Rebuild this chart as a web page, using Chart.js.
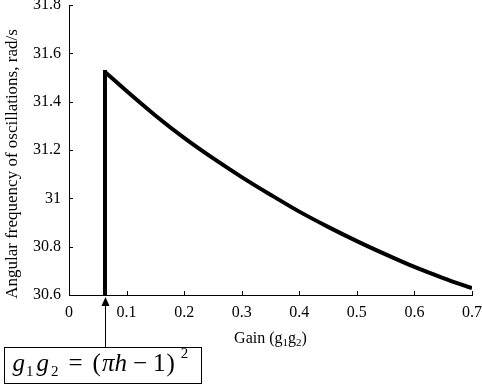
<!DOCTYPE html>
<html>
<head>
<meta charset="utf-8">
<script src="https://cdn.jsdelivr.net/npm/chart.js@4/dist/chart.umd.min.js"></script>
<style>
html,body{margin:0;padding:0;background:#fff;}
#wrap{width:482px;height:385px;position:relative;}
</style>
</head>
<body>
<div id="wrap"><canvas id="c" width="482" height="385"></canvas></div>
<script>
// Data
const thresholdGain = 0.0625;            // g1g2 = (πh − 1)^2
const gainValues = [0.0625, 0.1, 0.15, 0.2, 0.25, 0.3, 0.35, 0.4, 0.45, 0.5, 0.55, 0.6, 0.65, 0.7];
const freqValues = [31.523, 31.444, 31.343, 31.250, 31.166, 31.088, 31.015, 30.945, 30.882, 30.823, 30.768, 30.716, 30.670, 30.628];
const xTickValues = [0, 0.1, 0.2, 0.3, 0.4, 0.5, 0.6, 0.7];
const xTickLabels = ['0', '0.1', '0.2', '0.3', '0.4', '0.5', '0.6', '0.7'];
const yTickValues = [30.6, 30.8, 31, 31.2, 31.4, 31.6, 31.8];
const yTickLabels = ['30.6', '30.8', '31', '31.2', '31.4', '31.6', '31.8'];
const yTitle = 'Angular frequency of oscillations, rad/s';

const SERIF = '"Liberation Serif", "Times New Roman", serif';

const riseLine = [{x: thresholdGain, y: yTickValues[0]}, {x: gainValues[0], y: freqValues[0]}];
const curveLine = gainValues.map((g, i) => ({x: g, y: freqValues[i]}));

const decor = {
  id: 'decor',
  afterDraw(chart) {
    const ctx = chart.ctx;
    const xs = chart.scales.x, ys = chart.scales.y;
    const ca = chart.chartArea;
    ctx.save();
    ctx.strokeStyle = '#000';
    ctx.lineWidth = 1;
    // inward tick marks
    ctx.beginPath();
    yTickValues.forEach(v => {
      if (v === ys.min) return;
      const py = Math.round(ys.getPixelForValue(v)) + 0.5;
      ctx.moveTo(ca.left, py); ctx.lineTo(ca.left + 4, py);
    });
    xTickValues.forEach(v => {
      if (v === xs.min) return;
      const px = Math.round(xs.getPixelForValue(v)) + 0.5;
      ctx.moveTo(px, ca.bottom); ctx.lineTo(px, ca.bottom - 4);
    });
    ctx.stroke();

    // y title
    ctx.fillStyle = '#000';
    ctx.font = '17px ' + SERIF;
    ctx.textAlign = 'center';
    ctx.textBaseline = 'middle';
    ctx.save();
    ctx.translate(13, (ca.top + ca.bottom) / 2 + 14);
    ctx.rotate(-Math.PI / 2);
    ctx.fillText(yTitle, 0, 0);
    ctx.restore();

    // x title "Gain (g1g2)" with subscripts
    const parts = [
      {t: 'Gain (g', f: '16px ' + SERIF, dy: 0},
      {t: '1', f: '11px ' + SERIF, dy: 3},
      {t: 'g', f: '16px ' + SERIF, dy: 0},
      {t: '2', f: '11px ' + SERIF, dy: 3},
      {t: ')', f: '16px ' + SERIF, dy: 0}
    ];
    ctx.textAlign = 'left';
    ctx.textBaseline = 'alphabetic';
    let w = 0;
    parts.forEach(p => { ctx.font = p.f; w += ctx.measureText(p.t).width; });
    let cx = (ca.left + ca.right) / 2 - w / 2;
    const by = ca.bottom + 48;
    parts.forEach(p => { ctx.font = p.f; ctx.fillText(p.t, cx, by + p.dy); cx += ctx.measureText(p.t).width; });

    // formula box
    const boxL = 4.5, boxT = ca.bottom + 52.5, boxR = 201.5, boxB = 383.5;
    ctx.strokeRect(boxL, boxT, boxR - boxL, boxB - boxT);

    // arrow from box to the threshold gain on the axis
    const ax = Math.round(xs.getPixelForValue(thresholdGain)) + 0.5;
    ctx.beginPath();
    ctx.moveTo(ax, boxT); ctx.lineTo(ax, ca.bottom + 8);
    ctx.stroke();
    ctx.beginPath();
    ctx.moveTo(ax, ca.bottom + 2);
    ctx.lineTo(ax - 4, ca.bottom + 11);
    ctx.lineTo(ax + 4, ca.bottom + 11);
    ctx.closePath();
    ctx.fill();

    // formula text: g1g2 = (πh − 1)^2
    const IT = 'italic 25px ' + SERIF, UP = '25px ' + SERIF, SM = '15px ' + SERIF;
    const base = boxB - 13;
    const toks = [
      {t: 'g', f: IT, dy: 0, gap: 1},
      {t: '1', f: SM, dy: 5, gap: 3},
      {t: 'g', f: IT, dy: 0, gap: 2},
      {t: '2', f: SM, dy: 5, gap: 10},
      {t: '=', f: UP, dy: 0, gap: 10},
      {t: '(', f: UP, dy: 0, gap: 1},
      {t: 'π', f: IT, dy: 0, gap: 0},
      {t: 'h', f: IT, dy: 0, gap: 6},
      {t: '−', f: UP, dy: 0, gap: 6},
      {t: '1', f: UP, dy: 0, gap: 1},
      {t: ')', f: UP, dy: 0, gap: 6},
      {t: '2', f: SM, dy: -13, gap: 0}
    ];
    let tx = boxL + 8;
    toks.forEach(k => {
      ctx.font = k.f;
      ctx.fillText(k.t, tx, base + k.dy);
      tx += ctx.measureText(k.t).width + k.gap;
    });
    ctx.restore();
  }
};

function noPad(s) { s.paddingLeft = 0; s.paddingRight = 0; s.paddingTop = 0; s.paddingBottom = 0; }

new Chart(document.getElementById('c'), {
  type: 'line',
  data: {
    datasets: [{
      data: riseLine,
      borderColor: '#000',
      borderWidth: 4,
      pointRadius: 0,
      tension: 0,
      fill: false,
      borderCapStyle: 'square'
    }, {
      data: curveLine,
      borderColor: '#000',
      borderWidth: 4,
      pointRadius: 0,
      cubicInterpolationMode: 'monotone',
      fill: false,
      borderCapStyle: 'butt'
    }]
  },
  options: {
    responsive: false,
    animation: false,
    events: [],
    layout: {padding: {top: 5, right: 10, bottom: 0, left: 0}},
    plugins: {legend: {display: false}, tooltip: {enabled: false}, title: {display: false}},
    scales: {
      x: {
        type: 'linear',
        min: 0, max: 0.7,
        afterBuildTicks: s => { s.ticks = xTickValues.map(v => ({value: v})); },
        afterFit: s => { s.height = 90; noPad(s); },
        ticks: {
          color: '#000',
          padding: 8,
          maxRotation: 0,
          autoSkip: false,
          font: {family: SERIF, size: 16},
          callback: (v) => xTickLabels[xTickValues.indexOf(+(+v).toFixed(2))] ?? ''
        },
        grid: {drawOnChartArea: false, drawTicks: false},
        border: {display: true, color: '#000', width: 1}
      },
      y: {
        type: 'linear',
        min: 30.6, max: 31.8,
        afterBuildTicks: s => { s.ticks = yTickValues.map(v => ({value: v})); },
        afterFit: s => { s.width = 69; noPad(s); },
        ticks: {
          color: '#000',
          padding: 8,
          autoSkip: false,
          font: {family: SERIF, size: 16},
          callback: (v) => yTickLabels[yTickValues.indexOf(+(+v).toFixed(2))] ?? ''
        },
        grid: {drawOnChartArea: false, drawTicks: false},
        border: {display: true, color: '#000', width: 1}
      }
    }
  },
  plugins: [decor]
});
</script>
</body>
</html>
